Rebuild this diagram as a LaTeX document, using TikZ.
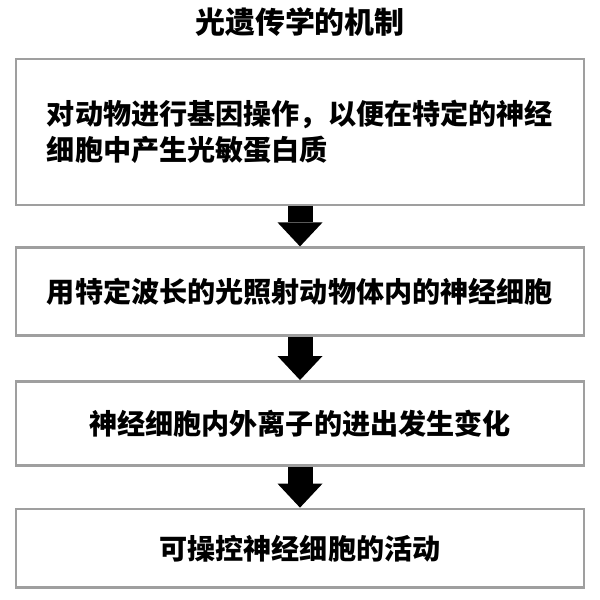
\documentclass[tikz,border=0pt]{standalone}
\usepackage{fontspec}
\newfontfamily\cjk{Noto Sans CJK SC}
\usetikzlibrary{arrows.meta,positioning}

\begin{document}
\begin{tikzpicture}[
  font=\cjk\bfseries\fontsize{20pt}{25.6pt}\selectfont,
  bx/.style={draw=gray!75, line width=2pt, align=left,
             minimum width=14.2cm, inner sep=3pt},
  arr/.style={line width=0.625cm,
              -{Triangle[length=0.6cm, width=1.125cm, line width=0pt]}}
]
\useasboundingbox (0,0) rectangle (15,-15);
\node[font=\cjk\bfseries\fontsize{21.3pt}{26pt}\selectfont] (title) at (7.5,-0.55) {光遗传学的机制};
\node[bx, minimum height=3.65cm, anchor=north] (s1) at (7.5,-1.44)
  {对动物进行基因操作，以便在特定的神经\\细胞中产生光敏蛋白质};
\node[bx, minimum height=2.2cm, below=1.0cm of s1] (s2) {用特定波长的光照射动物体内的神经细胞};
\node[bx, minimum height=2.1cm, below=1.07cm of s2] (s3) {神经细胞内外离子的进出发生变化};
\node[bx, minimum height=1.97cm, below=1.02cm of s3] (s4) {可操控神经细胞的活动};
% block arrows between the steps
\foreach \a/\b in {s1/s2, s2/s3, s3/s4}
  \draw[arr] (\a.south) -- (\b.north);
\end{tikzpicture}
\end{document}
